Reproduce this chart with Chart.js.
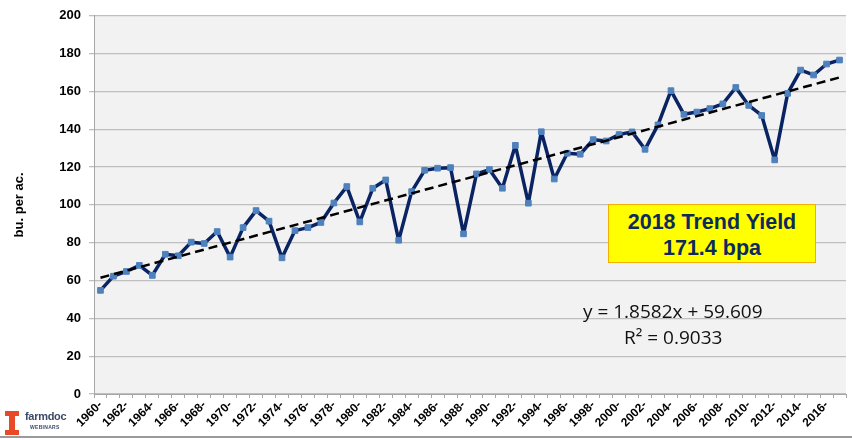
<!DOCTYPE html>
<html>
<head>
<meta charset="utf-8">
<script src="https://cdn.jsdelivr.net/npm/chart.js@4.4.1/dist/chart.umd.min.js"></script>
<style>
  html, body { margin: 0; padding: 0; background: #fff; }
  #wrap { position: relative; width: 852px; height: 440px; overflow: hidden; }
  #chart { position: absolute; left: 0; top: 0; }
  .trend-box {
    position: absolute; left: 608px; top: 204px; width: 208px; height: 59px;
    background: #ffff00; border: 1px solid #f2b100;
    font-family: "Liberation Sans", Arial, sans-serif; font-weight: bold;
    font-size: 21.5px; line-height: 26px; color: #0d2a5c; text-align: center;
    padding-top: 4px; box-sizing: border-box;
  }
  .eq {
    position: absolute; font-family: "Open Sans", "Liberation Sans", sans-serif;
    font-size: 19px; color: #111; white-space: nowrap;
  }
  .logo { position: absolute; left: 4px; top: 408px; width: 64px; height: 28px; }
  .logo .bar { position: absolute; background: #e84a27; }
  .logo .name {
    position: absolute; left: 21px; top: 2px; font-family: "Liberation Sans", Arial, sans-serif;
    font-weight: bold; font-size: 11px; color: #3b4a6b; letter-spacing: -0.3px;
  }
  .logo .sub {
    position: absolute; left: 26px; top: 16px; font-family: "Liberation Sans", Arial, sans-serif;
    font-weight: bold; font-size: 5px; color: #3b4a6b; letter-spacing: 0.3px;
  }
  .baseline { position: absolute; left: 0; top: 436px; width: 852px; height: 2px; background: #9a9a9a; }
</style>
</head>
<body>
<div id="wrap">
  <canvas id="chart" width="852" height="440"></canvas>
  <div class="trend-box">2018 Trend Yield<br>171.4 bpa</div>
  <div class="eq" style="left:583px; top:298px;">y = 1.8582x + 59.609</div>
  <div class="eq" style="left:624px; top:324px;">R² = 0.9033</div>
  <div class="logo">
    <div class="bar" style="left:1px; top:3px; width:14px; height:5px;"></div>
    <div class="bar" style="left:5px; top:3px; width:6px; height:24px;"></div>
    <div class="bar" style="left:1px; top:22px; width:14px; height:5px;"></div>
    <div class="name">farmdoc</div>
    <div class="sub">WEBINARS</div>
  </div>
  <div class="baseline"></div>
</div>
<script>
const years = [
  1960, 1961, 1962, 1963, 1964, 1965, 1966, 1967, 1968, 1969,
  1970, 1971, 1972, 1973, 1974, 1975, 1976, 1977, 1978, 1979,
  1980, 1981, 1982, 1983, 1984, 1985, 1986, 1987, 1988, 1989,
  1990, 1991, 1992, 1993, 1994, 1995, 1996, 1997, 1998, 1999,
  2000, 2001, 2002, 2003, 2004, 2005, 2006, 2007, 2008, 2009,
  2010, 2011, 2012, 2013, 2014, 2015, 2016, 2017
];

// bu. per acre
const yieldValues = [
  54.8, 62.3, 64.8, 68.0, 62.7, 73.9, 73.1, 80.3, 79.6, 85.9,
  72.4, 88.0, 97.0, 91.4, 72.0, 86.4, 88.0, 90.7, 101.0, 109.7,
  91.0, 108.8, 113.2, 81.3, 107.0, 118.3, 119.4, 119.7, 84.7, 116.4,
  118.7, 108.8, 131.5, 100.9, 138.7, 113.7, 127.3, 126.8, 134.5, 133.8,
  137.2, 138.6, 129.4, 142.3, 160.4, 147.9, 149.1, 150.9, 153.4, 162.1,
  152.6, 147.3, 123.8, 159.0, 171.3, 168.7, 174.5, 176.6
];

// linear trend at first and last year
const trendEnds = [61.5, 167.4];

const trendData = years.map((y, i) => {
  if (i === 0) return trendEnds[0];
  if (i === years.length - 1) return trendEnds[1];
  return null;
});

const plotBackground = {
  id: "plotBackground",
  beforeDraw(chart) {
    const { ctx, chartArea } = chart;
    ctx.save();
    ctx.fillStyle = "#f2f2f2";
    ctx.fillRect(chartArea.left, chartArea.top, chartArea.right - chartArea.left, chartArea.bottom - chartArea.top);
    ctx.restore();
  }
};

new Chart(document.getElementById("chart"), {
  type: "line",
  data: {
    labels: years,
    datasets: [
      {
        label: "Trend",
        data: trendData,
        spanGaps: true,
        borderColor: "#000000",
        borderWidth: 2.5,
        borderDash: [9, 5],
        pointRadius: 0,
        order: 0,
      },
      {
        label: "Yield",
        data: yieldValues,
        borderColor: "#0a2463",
        borderWidth: 3.5,
        borderJoinStyle: "round",
        borderCapStyle: "round",
        pointStyle: "rect",
        pointRadius: 4,
        pointBackgroundColor: "#4f81bd",
        pointBorderColor: "#4f81bd",
        pointBorderWidth: 1,
        tension: 0,
        order: 1,
      }
    ]
  },
  options: {
    responsive: false,
    animation: false,
    layout: { padding: { left: 0, right: 6, top: 8, bottom: 0 } },
    plugins: { legend: { display: false }, tooltip: { enabled: false } },
    scales: {
      x: {
        offset: true,
        grid: { offset: true, drawOnChartArea: false, tickLength: 4, color: "#a6a6a6" },
        border: { color: "#a6a6a6", width: 1 },
        ticks: {
          autoSkip: false,
          maxRotation: 45,
          minRotation: 45,
          padding: 0,
          color: "#000",
          font: { family: "Liberation Sans", size: 12, weight: "bold" },
          callback: (v, i) => (i % 2 === 0 ? years[i] + "-" : "")
        },
        afterFit(scale) { scale.height = 46; }
      },
      y: {
        min: 0,
        max: 200,
        ticks: {
          stepSize: 20,
          padding: 8,
          color: "#000",
          font: { family: "Liberation Sans", size: 13, weight: "bold" }
        },
        grid: { color: "#bfbfbf", tickLength: 5, lineWidth: 1.3 },
        border: { color: "#a6a6a6", width: 1 },
        title: {
          display: true,
          text: "bu. per ac.",
          color: "#000",
          padding: { top: 12, bottom: 0 },
          font: { family: "Liberation Sans", size: 13, weight: "bold" }
        },
        afterFit(scale) { scale.width = 94; }
      }
    }
  },
  plugins: [plotBackground]
});
</script>
</body>
</html>
